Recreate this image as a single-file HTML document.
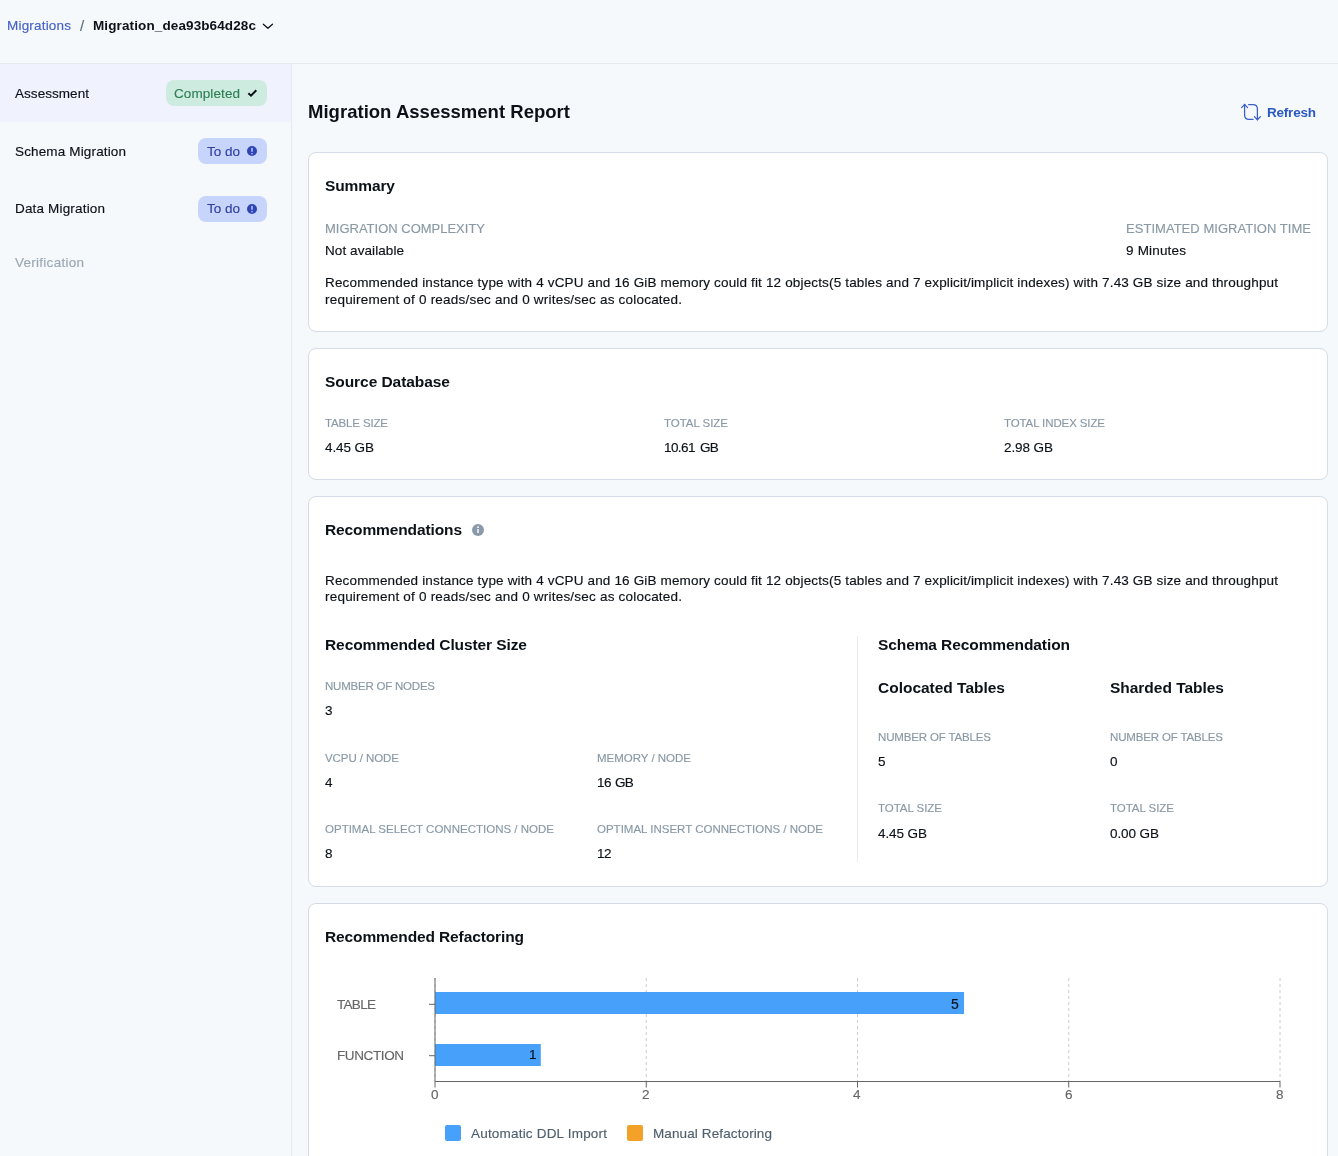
<!DOCTYPE html>
<html><head><meta charset="utf-8"><title>Migration Assessment Report</title>
<style>
html,body{margin:0;padding:0}
body{width:1338px;height:1156px;overflow:hidden;background:#f6f9fc;font-family:"Liberation Sans",sans-serif;position:relative}
.t{position:absolute;will-change:transform;white-space:pre;line-height:20px;height:20px}
.abs{position:absolute}
.card{position:absolute;background:#fff;border:1px solid #d5dce5;border-radius:8px;box-sizing:border-box}
.pill{position:absolute;border-radius:8px;box-sizing:border-box}
</style></head><body>
<!-- header border -->
<div class="abs" style="left:0;top:63px;width:1338px;height:1px;background:#e7ebf0"></div>
<!-- sidebar -->
<div class="abs" style="left:0;top:64px;width:291px;height:58px;background:#f0f2fe"></div>
<div class="abs" style="left:291px;top:64px;width:1px;height:1092px;background:#e7ebf0"></div>
<div class="pill" style="left:166px;top:80px;width:101px;height:26px;background:#cdecdf"></div>
<div class="pill" style="left:198px;top:138px;width:69px;height:26px;background:#c7d4fb"></div>
<div class="pill" style="left:198px;top:196px;width:69px;height:26px;background:#c7d4fb"></div>
<!-- chevron -->
<svg class="abs" style="left:261px;top:20px" width="14" height="12" viewBox="0 0 14 12"><path d="M2.3 4.2 L6.9 8.3 L11.5 4.2" fill="none" stroke="#0b1117" stroke-width="1.25" stroke-linecap="round" stroke-linejoin="round"/></svg>
<!-- check -->
<svg class="abs" style="left:246px;top:87px" width="13" height="12" viewBox="0 0 13 12"><path d="M2.4 6.3 L5 8.7 L10.3 3.3" fill="none" stroke="#0b1117" stroke-width="2" stroke-linecap="butt" stroke-linejoin="miter"/></svg>
<!-- todo icons -->
<svg class="abs" style="left:246px;top:145px" width="12" height="12" viewBox="0 0 12 12"><circle cx="6" cy="6" r="5" fill="#2f45b5"/><rect x="5.3" y="2.8" width="1.4" height="4.2" rx="0.7" fill="#c7d4fb"/><circle cx="6" cy="8.7" r="0.8" fill="#c7d4fb"/></svg>
<svg class="abs" style="left:246px;top:203px" width="12" height="12" viewBox="0 0 12 12"><circle cx="6" cy="6" r="5" fill="#2f45b5"/><rect x="5.3" y="2.8" width="1.4" height="4.2" rx="0.7" fill="#c7d4fb"/><circle cx="6" cy="8.7" r="0.8" fill="#c7d4fb"/></svg>
<!-- refresh icon -->
<svg class="abs" style="left:1240px;top:102px" width="22" height="20" viewBox="0 0 22 20"><g fill="none" stroke="#3a5fc8" stroke-width="1.25" stroke-linecap="round" stroke-linejoin="round"><path d="M4.6 2.4 V13 Q4.6 17.4 9 17.4 H13"/><path d="M1.6 5.6 L4.6 2.4 L7.6 5.6"/><path d="M17.4 17.8 V7 Q17.4 2.6 13 2.6 H8.6"/><path d="M14.4 14.6 L17.4 17.8 L20.4 14.6"/></g></svg>
<!-- cards -->
<div class="card" style="left:308px;top:152px;width:1020px;height:180px"></div>
<div class="card" style="left:308px;top:348px;width:1020px;height:132px"></div>
<div class="card" style="left:308px;top:496px;width:1020px;height:391px"></div>
<div class="card" style="left:308px;top:903px;width:1020px;height:300px"></div>
<!-- info icon -->
<svg class="abs" style="left:471px;top:523px" width="14" height="14" viewBox="0 0 14 14"><circle cx="7" cy="7" r="6" fill="#8b9aab"/><rect x="6.3" y="6" width="1.4" height="4" fill="#fff"/><circle cx="7" cy="4.2" r="0.9" fill="#fff"/></svg>
<!-- divider -->
<div class="abs" style="left:857px;top:636px;width:1px;height:226px;background:#e6ebf3"></div>
<!-- chart -->
<svg class="abs" style="left:308px;top:960px" width="1020" height="196" viewBox="308 960 1020 196">
<g stroke="#cccccc" stroke-width="1" stroke-dasharray="3 3">
<line x1="435" y1="978" x2="435" y2="1081"/>
<line x1="646.25" y1="978" x2="646.25" y2="1081"/>
<line x1="857.5" y1="978" x2="857.5" y2="1081"/>
<line x1="1068.75" y1="978" x2="1068.75" y2="1081"/>
<line x1="1280" y1="978" x2="1280" y2="1081"/>
</g>
<rect x="435" y="992" width="529" height="22" fill="#47a1fa"/>
<rect x="435" y="1044" width="105.8" height="22" fill="#47a1fa"/>
<g stroke="#666666" stroke-width="1">
<line x1="435" y1="978" x2="435" y2="1081"/>
<line x1="435" y1="1081.5" x2="1280" y2="1081.5"/>
<line x1="429" y1="1004.3" x2="435" y2="1004.3"/>
<line x1="429" y1="1055.7" x2="435" y2="1055.7"/>
<line x1="435" y1="1081" x2="435" y2="1087.5"/>
<line x1="646.25" y1="1081" x2="646.25" y2="1087.5"/>
<line x1="857.5" y1="1081" x2="857.5" y2="1087.5"/>
<line x1="1068.75" y1="1081" x2="1068.75" y2="1087.5"/>
<line x1="1280" y1="1081" x2="1280" y2="1087.5"/>
</g>
</svg>
<div class="abs" style="left:445px;top:1125px;width:16px;height:16px;border-radius:2px;background:#47a1fa"></div>
<div class="abs" style="left:627px;top:1125px;width:16px;height:16px;border-radius:2px;background:#f3a128"></div>
<span class="t" style="left:7px;top:16.0px;font-size:13.5px;font-weight:400;color:#4560c8;letter-spacing:0.191px;-webkit-text-stroke:0.15px">Migrations</span>
<span class="t" style="left:79.5px;top:16.0px;font-size:15px;font-weight:400;color:#5f6e7a;letter-spacing:0px;-webkit-text-stroke:0.15px">/</span>
<span class="t" style="left:93px;top:16.0px;font-size:13.5px;font-weight:700;color:#0b1117;letter-spacing:0.115px">Migration_dea93b64d28c</span>
<span class="t" style="left:15px;top:84.0px;font-size:13.5px;font-weight:400;color:#0b1117;letter-spacing:0.052px;-webkit-text-stroke:0.15px">Assessment</span>
<span class="t" style="left:174px;top:84.0px;font-size:13.5px;font-weight:400;color:#2f7d55;letter-spacing:0.088px;-webkit-text-stroke:0.15px">Completed</span>
<span class="t" style="left:15px;top:142.0px;font-size:13.5px;font-weight:400;color:#0b1117;letter-spacing:0.146px;-webkit-text-stroke:0.15px">Schema Migration</span>
<span class="t" style="left:207px;top:142.0px;font-size:13.5px;font-weight:400;color:#30409f;letter-spacing:-0.008px;-webkit-text-stroke:0.15px">To do</span>
<span class="t" style="left:15px;top:199.0px;font-size:13.5px;font-weight:400;color:#0b1117;letter-spacing:0.169px;-webkit-text-stroke:0.15px">Data Migration</span>
<span class="t" style="left:207px;top:199.0px;font-size:13.5px;font-weight:400;color:#30409f;letter-spacing:-0.008px;-webkit-text-stroke:0.15px">To do</span>
<span class="t" style="left:15px;top:253.0px;font-size:13.5px;font-weight:400;color:#9ba8b3;letter-spacing:0.268px;-webkit-text-stroke:0.15px">Verification</span>
<span class="t" style="left:308px;top:102.0px;font-size:18.5px;font-weight:700;color:#0b1117;letter-spacing:0.021px">Migration Assessment Report</span>
<span class="t" style="left:1267px;top:103.0px;font-size:13.5px;font-weight:700;color:#2b59c3;letter-spacing:-0.214px">Refresh</span>
<span class="t" style="left:325px;top:176.0px;font-size:15.5px;font-weight:700;color:#0b1117;letter-spacing:-0.109px">Summary</span>
<span class="t" style="left:325px;top:219.0px;font-size:13px;font-weight:400;color:#8999a6;letter-spacing:-0.006px;-webkit-text-stroke:0.15px">MIGRATION COMPLEXITY</span>
<span class="t" style="left:325px;top:241.0px;font-size:13.5px;font-weight:400;color:#0b1117;letter-spacing:0.079px;-webkit-text-stroke:0.15px">Not available</span>
<span class="t" style="left:1126px;top:219.0px;font-size:13px;font-weight:400;color:#8999a6;letter-spacing:0.036px;-webkit-text-stroke:0.15px">ESTIMATED MIGRATION TIME</span>
<span class="t" style="left:1126px;top:241.0px;font-size:13.5px;font-weight:400;color:#0b1117;letter-spacing:0.184px;-webkit-text-stroke:0.15px">9 Minutes</span>
<span class="t" style="left:325px;top:273.0px;font-size:13.5px;font-weight:400;color:#0b1117;letter-spacing:0.155px;-webkit-text-stroke:0.15px">Recommended instance type with 4 vCPU and 16 GiB memory could fit 12 objects(5 tables and 7 explicit/implicit indexes) with 7.43 GB size and throughput</span>
<span class="t" style="left:325px;top:290.0px;font-size:13.5px;font-weight:400;color:#0b1117;letter-spacing:0.211px;-webkit-text-stroke:0.15px">requirement of 0 reads/sec and 0 writes/sec as colocated.</span>
<span class="t" style="left:325px;top:372.0px;font-size:15.5px;font-weight:700;color:#0b1117;letter-spacing:-0.056px">Source Database</span>
<span class="t" style="left:325px;top:413.0px;font-size:11.5px;font-weight:400;color:#8999a6;letter-spacing:-0.149px;-webkit-text-stroke:0.15px">TABLE SIZE</span>
<span class="t" style="left:664px;top:413.0px;font-size:11.5px;font-weight:400;color:#8999a6;letter-spacing:-0.036px;-webkit-text-stroke:0.15px">TOTAL SIZE</span>
<span class="t" style="left:1004px;top:413.0px;font-size:11.5px;font-weight:400;color:#8999a6;letter-spacing:-0.111px;-webkit-text-stroke:0.15px">TOTAL INDEX SIZE</span>
<span class="t" style="left:325px;top:438.0px;font-size:13.5px;font-weight:400;color:#0b1117;letter-spacing:-0.089px;-webkit-text-stroke:0.15px">4.45 GB</span>
<span class="t" style="left:663.5px;top:438.0px;font-size:13.5px;font-weight:400;color:#0b1117;letter-spacing:-0.574px;-webkit-text-stroke:0.15px">10.61</span>
<span class="t" style="left:699.5px;top:438.0px;font-size:13.5px;font-weight:400;color:#0b1117;letter-spacing:-0.716px;-webkit-text-stroke:0.15px">GB</span>
<span class="t" style="left:1004px;top:438.0px;font-size:13.5px;font-weight:400;color:#0b1117;letter-spacing:-0.089px;-webkit-text-stroke:0.15px">2.98 GB</span>
<span class="t" style="left:325px;top:520.0px;font-size:15.5px;font-weight:700;color:#0b1117;letter-spacing:-0.119px">Recommendations</span>
<span class="t" style="left:325px;top:571.0px;font-size:13.5px;font-weight:400;color:#0b1117;letter-spacing:0.155px;-webkit-text-stroke:0.15px">Recommended instance type with 4 vCPU and 16 GiB memory could fit 12 objects(5 tables and 7 explicit/implicit indexes) with 7.43 GB size and throughput</span>
<span class="t" style="left:325px;top:587.0px;font-size:13.5px;font-weight:400;color:#0b1117;letter-spacing:0.211px;-webkit-text-stroke:0.15px">requirement of 0 reads/sec and 0 writes/sec as colocated.</span>
<span class="t" style="left:325px;top:635.0px;font-size:15.5px;font-weight:700;color:#0b1117;letter-spacing:-0.094px">Recommended Cluster Size</span>
<span class="t" style="left:878px;top:635.0px;font-size:15.5px;font-weight:700;color:#0b1117;letter-spacing:-0.091px">Schema Recommendation</span>
<span class="t" style="left:325px;top:676.0px;font-size:11.5px;font-weight:400;color:#8999a6;letter-spacing:-0.221px;-webkit-text-stroke:0.15px">NUMBER OF NODES</span>
<span class="t" style="left:325px;top:701.0px;font-size:13.5px;font-weight:400;color:#0b1117;letter-spacing:0px;-webkit-text-stroke:0.15px">3</span>
<span class="t" style="left:325px;top:748.0px;font-size:11.5px;font-weight:400;color:#8999a6;letter-spacing:-0.077px;-webkit-text-stroke:0.15px">VCPU / NODE</span>
<span class="t" style="left:597px;top:748.0px;font-size:11.5px;font-weight:400;color:#8999a6;letter-spacing:-0.013px;-webkit-text-stroke:0.15px">MEMORY / NODE</span>
<span class="t" style="left:325px;top:773.0px;font-size:13.5px;font-weight:400;color:#0b1117;letter-spacing:0px;-webkit-text-stroke:0.15px">4</span>
<span class="t" style="left:596.5px;top:773.0px;font-size:13.5px;font-weight:400;color:#0b1117;letter-spacing:-0.531px;-webkit-text-stroke:0.15px">16</span>
<span class="t" style="left:615px;top:773.0px;font-size:13.5px;font-weight:400;color:#0b1117;letter-spacing:-0.716px;-webkit-text-stroke:0.15px">GB</span>
<span class="t" style="left:325px;top:819.0px;font-size:11.5px;font-weight:400;color:#8999a6;letter-spacing:0.007px;-webkit-text-stroke:0.15px">OPTIMAL SELECT CONNECTIONS / NODE</span>
<span class="t" style="left:597px;top:819.0px;font-size:11.5px;font-weight:400;color:#8999a6;letter-spacing:0.0px;-webkit-text-stroke:0.15px">OPTIMAL INSERT CONNECTIONS / NODE</span>
<span class="t" style="left:325px;top:844.0px;font-size:13.5px;font-weight:400;color:#0b1117;letter-spacing:0px;-webkit-text-stroke:0.15px">8</span>
<span class="t" style="left:596.5px;top:844.0px;font-size:13.5px;font-weight:400;color:#0b1117;letter-spacing:-0.531px;-webkit-text-stroke:0.15px">12</span>
<span class="t" style="left:878px;top:678.0px;font-size:15.5px;font-weight:700;color:#0b1117;letter-spacing:-0.013px">Colocated Tables</span>
<span class="t" style="left:1110px;top:678.0px;font-size:15.5px;font-weight:700;color:#0b1117;letter-spacing:-0.022px">Sharded Tables</span>
<span class="t" style="left:878px;top:727.0px;font-size:11.5px;font-weight:400;color:#8999a6;letter-spacing:-0.15px;-webkit-text-stroke:0.15px">NUMBER OF TABLES</span>
<span class="t" style="left:1110px;top:727.0px;font-size:11.5px;font-weight:400;color:#8999a6;letter-spacing:-0.15px;-webkit-text-stroke:0.15px">NUMBER OF TABLES</span>
<span class="t" style="left:878px;top:752.0px;font-size:13.5px;font-weight:400;color:#0b1117;letter-spacing:0px;-webkit-text-stroke:0.15px">5</span>
<span class="t" style="left:1110px;top:752.0px;font-size:13.5px;font-weight:400;color:#0b1117;letter-spacing:0px;-webkit-text-stroke:0.15px">0</span>
<span class="t" style="left:878px;top:798.0px;font-size:11.5px;font-weight:400;color:#8999a6;letter-spacing:-0.036px;-webkit-text-stroke:0.15px">TOTAL SIZE</span>
<span class="t" style="left:1110px;top:798.0px;font-size:11.5px;font-weight:400;color:#8999a6;letter-spacing:-0.036px;-webkit-text-stroke:0.15px">TOTAL SIZE</span>
<span class="t" style="left:878px;top:824.0px;font-size:13.5px;font-weight:400;color:#0b1117;letter-spacing:-0.089px;-webkit-text-stroke:0.15px">4.45 GB</span>
<span class="t" style="left:1110px;top:824.0px;font-size:13.5px;font-weight:400;color:#0b1117;letter-spacing:-0.089px;-webkit-text-stroke:0.15px">0.00 GB</span>
<span class="t" style="left:325px;top:927.0px;font-size:15.5px;font-weight:700;color:#0b1117;letter-spacing:-0.116px">Recommended Refactoring</span>
<span class="t" style="left:337px;top:995.0px;font-size:13.5px;font-weight:400;color:#666666;letter-spacing:-0.691px;-webkit-text-stroke:0.15px">TABLE</span>
<span class="t" style="left:337px;top:1046.0px;font-size:13.5px;font-weight:400;color:#666666;letter-spacing:-0.393px;-webkit-text-stroke:0.15px">FUNCTION</span>
<span class="t" style="left:951px;top:994.0px;font-size:14px;font-weight:400;color:#0b1117;letter-spacing:0px;-webkit-text-stroke:0.15px">5</span>
<span class="t" style="left:528.5px;top:1045.0px;font-size:13.5px;font-weight:400;color:#0b1117;letter-spacing:0px;-webkit-text-stroke:0.15px">1</span>
<span class="t" style="left:431px;top:1085.0px;font-size:13.5px;font-weight:400;color:#666666;letter-spacing:0px;-webkit-text-stroke:0.15px">0</span>
<span class="t" style="left:642px;top:1085.0px;font-size:13.5px;font-weight:400;color:#666666;letter-spacing:0px;-webkit-text-stroke:0.15px">2</span>
<span class="t" style="left:853px;top:1085.0px;font-size:13.5px;font-weight:400;color:#666666;letter-spacing:0px;-webkit-text-stroke:0.15px">4</span>
<span class="t" style="left:1065px;top:1085.0px;font-size:13.5px;font-weight:400;color:#666666;letter-spacing:0px;-webkit-text-stroke:0.15px">6</span>
<span class="t" style="left:1276px;top:1085.0px;font-size:13.5px;font-weight:400;color:#666666;letter-spacing:0px;-webkit-text-stroke:0.15px">8</span>
<span class="t" style="left:471px;top:1124.0px;font-size:13.5px;font-weight:400;color:#4e5f6d;letter-spacing:0.195px;-webkit-text-stroke:0.15px">Automatic DDL Import</span>
<span class="t" style="left:653px;top:1124.0px;font-size:13.5px;font-weight:400;color:#4e5f6d;letter-spacing:0.113px;-webkit-text-stroke:0.15px">Manual Refactoring</span>
</body></html>
